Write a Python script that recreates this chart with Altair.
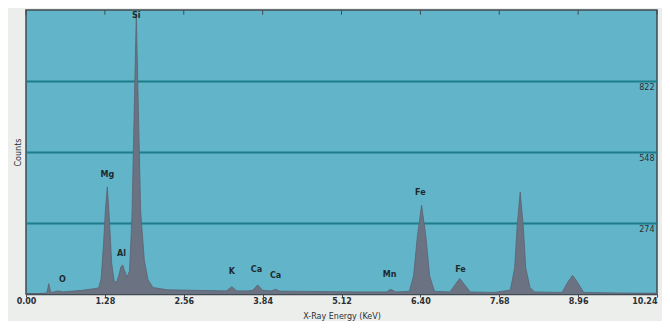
import altair as alt
import pandas as pd

# Spectrum points (energy keV, counts)
energy = [0.00, 0.30, 0.34, 0.37, 0.40, 0.45, 0.52, 0.60, 0.90, 1.10, 1.18,
          1.22, 1.26, 1.29, 1.32, 1.35, 1.39, 1.43, 1.47, 1.51, 1.54, 1.57, 1.60, 1.64,
          1.68, 1.72, 1.76, 1.79, 1.82, 1.86, 1.92, 1.98, 2.06, 2.30, 2.80,
          3.25, 3.34, 3.42, 3.60, 3.68, 3.76, 3.84, 3.98, 4.05, 4.12, 4.60,
          5.40, 5.85, 5.92, 6.00, 6.22, 6.29, 6.35, 6.42, 6.49, 6.55, 6.63,
          6.88, 6.97, 7.04, 7.11, 7.21, 7.60, 7.86, 7.93, 7.97, 8.02, 8.07,
          8.11, 8.18, 8.25, 8.70, 8.79, 8.87, 8.95, 9.05, 9.60, 10.24]
counts = [0, 3, 5, 40, 6, 8, 12, 8, 14, 20, 24,
          60, 200, 330, 413, 300, 120, 50, 45, 75, 105, 112, 90, 65,
          90, 300, 750, 1080, 750, 320, 130, 55, 25, 16, 14,
          12, 28, 12, 12, 14, 35, 14, 12, 18, 11, 10,
          8, 8, 18, 8, 10, 70, 220, 343, 220, 70, 10,
          8, 38, 60, 38, 8, 6, 15, 100, 260, 394, 260,
          100, 25, 8, 6, 45, 72, 45, 6, 4, 3]

# Peak labels
lab_text = ["O", "Mg", "Al", "Si", "K", "Ca", "Ca", "Mn", "Fe", "Fe"]
lab_x = [0.59, 1.32, 1.55, 1.79, 3.34, 3.74, 4.05, 5.90, 6.40, 7.05]
lab_y = [54, 459, 154, 1073, 85, 93, 69, 73, 390, 93]

# Axis ticks and grid
x_ticks = [0.00, 1.28, 2.56, 3.84, 5.12, 6.40, 7.68, 8.96, 10.24]
grid_vals = [274, 548, 822]
y_max = 1096

spec = pd.DataFrame({"e": energy, "c": counts})
labs = pd.DataFrame({"t": lab_text, "e": lab_x, "c": lab_y})
grid = pd.DataFrame({"c": grid_vals, "lbl": [str(v) for v in grid_vals], "e": [10.20] * 3})
tops = pd.DataFrame({"e": x_ticks, "c": [y_max] * len(x_ticks), "c2": [y_max - 18] * len(x_ticks)})

xs = alt.Scale(domain=[0, 10.24], nice=False, zero=False)
ys = alt.Scale(domain=[0, y_max], nice=False)

area = alt.Chart(spec).mark_area(color="#6b7282", opacity=1, line={"color": "#5a6272", "strokeWidth": 0.8}).encode(
    x=alt.X("e:Q", scale=xs, axis=alt.Axis(
        values=x_ticks, format=".2f", title="X-Ray Energy (KeV)",
        grid=False, domainColor="#3f4a52", domainWidth=1.5, tickColor="#3f4a52", tickSize=3,
        labelFont="DejaVu Sans", labelFontSize=8, labelColor="#2a3035", labelFontWeight="bold",
        labelPadding=0, titleFont="DejaVu Sans", titleFontSize=8, titleFontWeight="normal",
        titleColor="#2a3035", titlePadding=7, labelFlush=False,
        labelAlign=alt.ExprRef(expr="datum.value >= 10.2 ? 'right' : 'center'"))),
    y=alt.Y("c:Q", scale=ys, axis=alt.Axis(
        values=grid_vals, labels=False, ticks=False, domain=False, grid=True,
        gridColor="#1d7d8c", gridWidth=1.8, title="Counts",
        titleFont="DejaVu Sans", titleFontSize=8, titleFontWeight="normal",
        titleColor="#2a3035", titlePadding=4)),
)

glabels = alt.Chart(grid).mark_text(align="right", baseline="top", dy=3, font="DejaVu Sans",
                                    fontSize=8, color="#2a3035").encode(
    x=alt.X("e:Q", scale=xs), y=alt.Y("c:Q", scale=ys), text="lbl:N")

plabels = alt.Chart(labs).mark_text(baseline="middle", font="DejaVu Sans", fontSize=8,
                                    fontWeight="bold", color="#1c2a30").encode(
    x=alt.X("e:Q", scale=xs), y=alt.Y("c:Q", scale=ys), text="t:N")

topticks = alt.Chart(tops).mark_rule(color="#3f4a52", strokeWidth=1).encode(
    x=alt.X("e:Q", scale=xs), y=alt.Y("c:Q", scale=ys), y2="c2:Q")

chart = alt.layer(area, glabels, plabels, topticks).properties(
    width=631, height=284,
    autosize=alt.AutoSizeParams(type="none"),
    padding={"left": 18, "top": 2, "right": 5, "bottom": 27},
    background="#eceeec",
).configure_view(fill="#62b4c9", stroke="#3f4a52", strokeWidth=1.5)

chart.save("out.html", embed_options={"renderer": "svg", "actions": False})
